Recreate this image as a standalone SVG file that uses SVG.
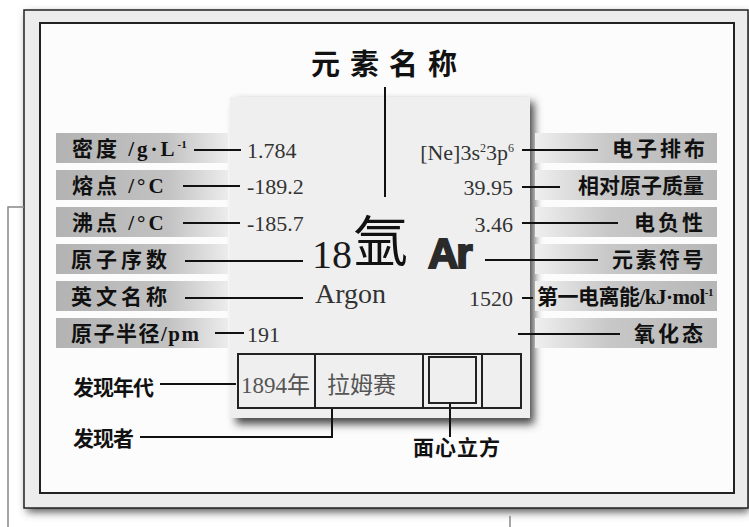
<svg xmlns="http://www.w3.org/2000/svg" width="749" height="527" viewBox="0 0 749 527">
<defs>
<style>
.lbl{font-family:"Liberation Serif","Noto Sans CJK SC",serif;font-weight:bold;font-size:21px;fill:#111}
.num{font-family:"Liberation Serif","Noto Sans CJK SC",serif;font-size:22px;fill:#333}
.cn{font-family:"Noto Sans CJK SC",sans-serif;font-weight:bold;fill:#111}
.ln{stroke:#111;stroke-width:2;fill:none}
.thin{stroke:#888;stroke-width:1.5;fill:none}
.box{stroke:#222;stroke-width:2;fill:none}
</style>
<linearGradient id="gl" x1="0" y1="0" x2="1" y2="0">
<stop offset="0" stop-color="#b3b3b3"/>
<stop offset="0.65" stop-color="#c2c2c2"/>
<stop offset="1" stop-color="#ececec"/>
</linearGradient>
<linearGradient id="gr" x1="0" y1="0" x2="1" y2="0">
<stop offset="0" stop-color="#efefef"/>
<stop offset="0.4" stop-color="#c8c8c8"/>
<stop offset="1" stop-color="#b6b6b6"/>
</linearGradient>
<filter id="sh" x="-10%" y="-10%" width="130%" height="130%">
<feGaussianBlur stdDeviation="4"/>
</filter>
</defs>

<g id="frame">
<rect x="27" y="14" width="722" height="498" fill="#555" filter="url(#sh)"/>
<rect x="24" y="10" width="724" height="498" fill="#ececec" stroke="#222" stroke-width="1.5"/>
<rect x="40" y="23" width="694" height="470" fill="#fcfcfc" stroke="#222" stroke-width="2"/>
</g>

<g id="card">
<rect x="236" y="102" width="298" height="322" fill="#444" filter="url(#sh)"/>
<rect x="230" y="97" width="300" height="321" fill="#efefef"/>
</g>

<g id="bars">
<rect x="56" y="133" width="172" height="30" fill="url(#gl)"/>
<rect x="56" y="170" width="172" height="30" fill="url(#gl)"/>
<rect x="56" y="207" width="172" height="30" fill="url(#gl)"/>
<rect x="56" y="244" width="172" height="30" fill="url(#gl)"/>
<rect x="56" y="281" width="172" height="30" fill="url(#gl)"/>
<rect x="56" y="318" width="172" height="30" fill="url(#gl)"/>
<rect x="535" y="133" width="182" height="30" fill="url(#gr)"/>
<rect x="535" y="170" width="182" height="30" fill="url(#gr)"/>
<rect x="535" y="207" width="182" height="30" fill="url(#gr)"/>
<rect x="535" y="244" width="182" height="30" fill="url(#gr)"/>
<rect x="535" y="281" width="182" height="30" fill="url(#gr)"/>
<rect x="535" y="318" width="182" height="30" fill="url(#gr)"/>
</g>

<g id="connectors">
<line class="ln" x1="385" y1="87" x2="385" y2="197"/>
<line class="ln" x1="194" y1="150" x2="241" y2="150"/>
<line class="ln" x1="183" y1="186" x2="240" y2="186"/>
<line class="ln" x1="183" y1="223" x2="240" y2="223"/>
<line class="ln" x1="185" y1="261" x2="303" y2="261"/>
<line class="ln" x1="185" y1="298" x2="303" y2="298"/>
<line class="ln" x1="215" y1="333" x2="244" y2="333"/>
<line class="ln" x1="522" y1="150" x2="598" y2="150"/>
<line class="ln" x1="522" y1="187" x2="560" y2="187"/>
<line class="ln" x1="522" y1="223" x2="618" y2="223"/>
<line class="ln" x1="485" y1="260" x2="598" y2="260"/>
<line class="ln" x1="522" y1="298" x2="533" y2="298"/>
<line class="ln" x1="518" y1="334" x2="620" y2="334"/>
<line class="ln" x1="160" y1="384" x2="236" y2="384" stroke-width="1.5"/>
<polyline class="ln" points="140,437 332,437 332,408" stroke-width="1.5"/>
<line class="ln" x1="450" y1="404" x2="450" y2="437" stroke-width="1.5"/>
<polyline class="thin" points="24,207 8,207 8,527"/>
<line class="thin" x1="510" y1="516" x2="510" y2="527"/>
</g>

<g id="title">
<text class="cn" x="311" y="75" font-size="29" letter-spacing="10">元素名称</text>
</g>

<g id="element">
<text x="312" y="268" font-family="Liberation Serif,serif" font-size="40" fill="#1a1a1a">18</text>
<text x="353" y="261" font-family="Noto Sans CJK SC,sans-serif" font-size="55" fill="#111">氩</text>
<text x="428" y="268" font-family="Liberation Sans,Arial,sans-serif" font-weight="bold" font-size="42" fill="#2a2a2a" stroke="#2a2a2a" stroke-width="2" letter-spacing="-2">Ar</text>
<text x="315" y="303" font-family="Liberation Serif,serif" font-size="28" fill="#333">Argon</text>
</g>

<g id="left-labels">
<text class="lbl" x="72" y="156" letter-spacing="3">密度 /g·L<tspan dy="-8" font-size="11" letter-spacing="0">-1</tspan></text>
<text class="lbl" x="72" y="193" letter-spacing="3">熔点 /°C</text>
<text class="lbl" x="72" y="230" letter-spacing="3">沸点 /°C</text>
<text class="lbl" x="71" y="267" letter-spacing="4">原子序数</text>
<text class="lbl" x="71" y="304" letter-spacing="4">英文名称</text>
<text class="lbl" x="71" y="341" letter-spacing="1.5">原子半径/pm</text>
</g>

<g id="left-values">
<text class="num" x="247" y="158">1.784</text>
<text class="num" x="247" y="194">-189.2</text>
<text class="num" x="247" y="231">-185.7</text>
<text class="num" x="247" y="342">191</text>
</g>

<g id="right-values">
<text class="num" x="514" y="160" text-anchor="end">[Ne]3s<tspan dy="-8" font-size="12">2</tspan><tspan dy="8">3p</tspan><tspan dy="-8" font-size="12">6</tspan></text>
<text class="num" x="513" y="195" text-anchor="end">39.95</text>
<text class="num" x="513" y="232" text-anchor="end">3.46</text>
<text class="num" x="513" y="306" text-anchor="end">1520</text>
</g>

<g id="right-labels">
<text class="lbl" x="708" y="156" text-anchor="end" letter-spacing="3">电子排布</text>
<text class="lbl" x="704" y="193" text-anchor="end" font-size="22">相对原子质量</text>
<text class="lbl" x="706" y="230" text-anchor="end" letter-spacing="3">电负性</text>
<text class="lbl" x="706" y="267" text-anchor="end" letter-spacing="2.5">元素符号</text>
<text class="lbl" x="537" y="304" font-size="19" letter-spacing="-0.5">第一电离能/kJ·mol<tspan dy="-8" font-size="11">-1</tspan></text>
<text class="lbl" x="706" y="341" text-anchor="end" letter-spacing="3">氧化态</text>
</g>

<g id="discovery">
<rect class="box" x="238" y="354" width="283" height="54"/>
<line class="box" x1="315" y1="354" x2="315" y2="408"/>
<line class="box" x1="423" y1="354" x2="423" y2="408"/>
<line class="box" x1="482" y1="354" x2="482" y2="408"/>
<rect class="box" x="429" y="357" width="47" height="46"/>
<text x="241" y="393" font-family="Liberation Serif,Noto Sans CJK SC,serif" font-size="23" fill="#555">1894年</text>
<text x="327" y="393" font-family="Noto Sans CJK SC,sans-serif" font-size="23" fill="#555">拉姆赛</text>
</g>

<g id="bottom-labels">
<text class="lbl" x="73" y="395" font-size="19" letter-spacing="-1">发现年代</text>
<text class="lbl" x="73" y="446" font-size="20" letter-spacing="-1">发现者</text>
<text class="lbl" x="413" y="455" font-size="18" letter-spacing="1">面心立方</text>
</g>
</svg>
